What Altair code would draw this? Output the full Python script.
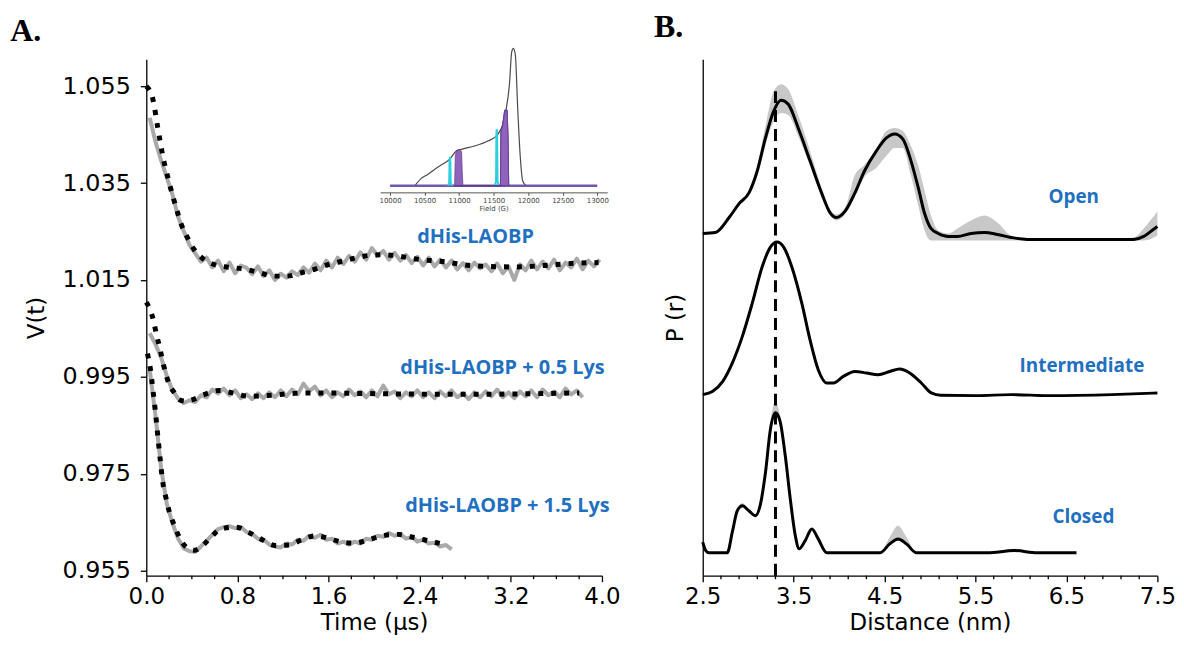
import altair as alt
import pandas as pd

# ---------------- Panel A: DEER time traces ----------------
TIME = [0.03, 0.08, 0.13, 0.18, 0.23, 0.28, 0.33, 0.38, 0.43, 0.48,
        0.53, 0.58, 0.63, 0.68, 0.73, 0.78, 0.83, 0.88, 0.93, 0.98,
        1.03, 1.08, 1.13, 1.18, 1.23, 1.28, 1.33, 1.38, 1.43, 1.48,
        1.53, 1.58, 1.63, 1.68, 1.73, 1.78, 1.83, 1.88, 1.93, 1.98,
        2.03, 2.08, 2.13, 2.18, 2.23, 2.28, 2.33, 2.38, 2.43, 2.48,
        2.53, 2.58, 2.63, 2.68, 2.73, 2.78, 2.83, 2.88, 2.93, 2.98,
        3.03, 3.08, 3.13, 3.18, 3.23, 3.28, 3.33, 3.38, 3.43, 3.48,
        3.53, 3.58, 3.63, 3.68, 3.73, 3.78, 3.83, 3.88, 3.93, 3.98]

V_TOP = [1.0485, 1.0436, 1.0397, 1.0362, 1.0326, 1.0280, 1.0250, 1.0222, 1.0205, 1.0188,
         1.0196, 1.0176, 1.0190, 1.0168, 1.0186, 1.0164, 1.0180, 1.0175, 1.0162, 1.0178,
         1.0158, 1.0170, 1.0150, 1.0163, 1.0155, 1.0168, 1.0160, 1.0176, 1.0165, 1.0184,
         1.0170, 1.0190, 1.0176, 1.0196, 1.0183, 1.0200, 1.0188, 1.0207, 1.0192, 1.0216,
         1.0200, 1.0210, 1.0192, 1.0206, 1.0190, 1.0202, 1.0185, 1.0198, 1.0180, 1.0196,
         1.0178, 1.0192, 1.0176, 1.0190, 1.0172, 1.0185, 1.0170, 1.0186, 1.0174, 1.0182,
         1.0168, 1.0184, 1.0164, 1.0178, 1.0150, 1.0182, 1.0170, 1.0190, 1.0172, 1.0188,
         1.0174, 1.0192, 1.0170, 1.0186, 1.0176, 1.0194, 1.0172, 1.0190, 1.0178, 1.0192]

V_MID = [1.0040, 1.0018, 0.9990, 0.9952, 0.9922, 0.9905, 0.9896, 0.9902, 0.9898, 0.9912,
         0.9908, 0.9924, 0.9916, 0.9926, 0.9912, 0.9922, 0.9906, 0.9914, 0.9904, 0.9916,
         0.9906, 0.9918, 0.9908, 0.9922, 0.9910, 0.9924, 0.9914, 0.9936, 0.9920, 0.9930,
         0.9912, 0.9922, 0.9908, 0.9918, 0.9910, 0.9924, 0.9912, 0.9920, 0.9908, 0.9922,
         0.9910, 0.9932, 0.9914, 0.9920, 0.9906, 0.9918, 0.9910, 0.9922, 0.9908, 0.9918,
         0.9906, 0.9920, 0.9910, 0.9922, 0.9908, 0.9916, 0.9904, 0.9918, 0.9908, 0.9920,
         0.9910, 0.9924, 0.9908, 0.9918, 0.9906, 0.9920, 0.9910, 0.9922, 0.9908, 0.9924,
         0.9912, 0.9920, 0.9908, 0.9926, 0.9914, 0.9922, 0.9908]

V_BOT = [0.9965, 0.9872, 0.9762, 0.9688, 0.9648, 0.9616, 0.9596, 0.9590, 0.9589, 0.9600,
         0.9612, 0.9624, 0.9636, 0.9640, 0.9642, 0.9638, 0.9640, 0.9630, 0.9626, 0.9616,
         0.9614, 0.9604, 0.9600, 0.9598, 0.9606, 0.9604, 0.9614, 0.9612, 0.9622, 0.9618,
         0.9624, 0.9614, 0.9616, 0.9606, 0.9610, 0.9604, 0.9610, 0.9606, 0.9616, 0.9614,
         0.9622, 0.9620, 0.9628, 0.9622, 0.9626, 0.9616, 0.9620, 0.9610, 0.9614, 0.9606,
         0.9608, 0.9600, 0.9603, 0.9594]

FIT_TOP_T = [0.0, 0.058, 0.101, 0.145, 0.203, 0.27, 0.305, 0.358, 0.42, 0.509,
             0.625, 0.742, 0.873, 0.997, 1.12, 1.236, 1.361, 1.477, 1.6, 1.724,
             1.846, 1.972, 2.094, 2.225, 2.341, 2.457, 2.6, 2.85, 3.23, 3.5, 3.72, 3.97]
FIT_TOP_V = [1.055, 1.0523, 1.0464, 1.0406, 1.0349, 1.0293, 1.0266, 1.0239, 1.0213, 1.0192,
             1.0180, 1.0176, 1.0172, 1.0165, 1.0158, 1.0158, 1.0165, 1.0172, 1.0182, 1.0189,
             1.0196, 1.0201, 1.0202, 1.0199, 1.0194, 1.0191, 1.0188, 1.0180, 1.0177, 1.0180,
             1.0184, 1.0186]

FIT_MID_T = [0.0, 0.058, 0.087, 0.122, 0.154, 0.197, 0.247, 0.29, 0.349, 0.407,
             0.524, 0.64, 0.756, 0.9, 1.02, 1.4, 2.15, 2.84, 3.3, 3.8]
FIT_MID_V = [1.0104, 1.0071, 1.0040, 1.0006, 0.9972, 0.9937, 0.9917, 0.9903, 0.9900, 0.9903,
             0.9915, 0.9922, 0.9917, 0.9910, 0.9911, 0.9917, 0.9915, 0.9914, 0.9915, 0.9917]

FIT_BOT_T = [0.01, 0.035, 0.058, 0.081, 0.101, 0.122, 0.145, 0.175, 0.203, 0.247,
             0.29, 0.349, 0.42, 0.48, 0.567, 0.654, 0.785, 0.9, 1.017, 1.134,
             1.25, 1.367, 1.483, 1.6, 1.716, 1.832, 1.948, 2.094, 2.21, 2.341, 2.472, 2.6]
FIT_BOT_V = [0.9998, 0.9968, 0.9924, 0.9876, 0.9828, 0.9780, 0.9732, 0.9698, 0.9671, 0.9643,
             0.9619, 0.9599, 0.9592, 0.9599, 0.9619, 0.9636, 0.9640, 0.9629, 0.9614, 0.9602,
             0.9603, 0.9614, 0.9622, 0.9617, 0.9609, 0.9607, 0.9614, 0.9623, 0.9625, 0.9619,
             0.9612, 0.9605]

TRACE_LABELS = ["dHis-LAOBP", "dHis-LAOBP + 0.5 Lys", "dHis-LAOBP + 1.5 Lys"]
TRACE_LABEL_T = [2.89, 3.127, 3.17]
TRACE_LABEL_V = [1.0238, 0.99689, 0.96841]

V_TICKS = [0.955, 0.975, 0.995, 1.015, 1.035, 1.055]
T_MAJOR = [0.0, 0.8, 1.6, 2.4, 3.2, 4.0]
T_MINOR = [0.2, 0.4, 0.6, 1.0, 1.2, 1.4, 1.8, 2.0, 2.2, 2.6, 2.8, 3.0, 3.4, 3.6, 3.8]

# ---------------- Inset: field-swept spectrum ----------------
SPEC_F = [10360, 10456, 10552, 10648, 10744, 10864, 10960, 11032, 11224, 11416,
          11560, 11632, 11680, 11728, 11762, 11786, 11814, 11848, 11886, 11920, 11968]
SPEC_I = [0, 0.055, 0.084, 0.12, 0.152, 0.193, 0.253, 0.265, 0.289, 0.325,
          0.373, 0.446, 0.554, 0.735, 0.976, 1.0, 0.952, 0.566, 0.205, 0.036, 0]
PUMP1_F = [10935, 10945, 10965, 11010, 11035, 11045, 11055]
PUMP1_I = [0, 0.22, 0.255, 0.262, 0.25, 0.1, 0]
PUMP2_F = [11598, 11606, 11630, 11660, 11695, 11708, 11718]
PUMP2_I = [0, 0.40, 0.44, 0.55, 0.55, 0.35, 0]
OBS1_F = [10836, 10856, 10862, 10867, 10872, 10878, 10898]
OBS1_I = [0, 0.02, 0.19, 0.21, 0.19, 0.02, 0]
OBS2_F = [11515, 11535, 11540, 11545, 11550, 11556, 11575]
OBS2_I = [0, 0.03, 0.39, 0.41, 0.38, 0.03, 0]
BASE_F = [10000, 13000]
BASE_I = [0, 0]
FIELD_TICKS = [10000, 10500, 11000, 11500, 12000, 12500, 13000]

# ---------------- Panel B: distance distributions ----------------
OPEN_R = [2.50, 2.64, 2.79, 2.90, 3.01, 3.10, 3.19, 3.28, 3.36, 3.44,
          3.55, 3.68, 3.81, 3.90, 3.97, 4.07, 4.17, 4.28, 4.41, 4.52,
          4.61, 4.70, 4.79, 4.87, 4.94, 5.01, 5.09, 5.20, 5.30, 5.45,
          5.60, 5.74, 5.89, 6.07, 6.50, 7.00, 7.24, 7.35, 7.44, 7.50]
OPEN_P = [3.47, 3.48, 3.63, 3.77, 3.88, 4.10, 4.43, 4.70, 4.81, 4.77,
          4.53, 4.20, 3.87, 3.68, 3.63, 3.70, 3.87, 4.10, 4.30, 4.43,
          4.47, 4.42, 4.20, 3.93, 3.67, 3.52, 3.47, 3.44, 3.44, 3.47,
          3.48, 3.46, 3.43, 3.41, 3.41, 3.41, 3.41, 3.44, 3.50, 3.54]
OPEN_LO = [3.46, 3.47, 3.62, 3.76, 3.87, 4.05, 4.36, 4.60, 4.68, 4.66,
           4.45, 4.15, 3.83, 3.65, 3.60, 3.67, 3.85, 4.04, 4.13, 4.25,
           4.33, 4.33, 4.05, 3.75, 3.50, 3.40, 3.40, 3.40, 3.40, 3.40,
           3.40, 3.40, 3.40, 3.40, 3.40, 3.40, 3.40, 3.40, 3.42, 3.45]
OPEN_HI = [3.48, 3.49, 3.64, 3.78, 3.89, 4.15, 4.55, 4.90, 4.97, 4.92,
           4.66, 4.30, 3.92, 3.71, 3.66, 3.74, 4.05, 4.16, 4.32, 4.50,
           4.53, 4.50, 4.35, 4.15, 3.90, 3.65, 3.50, 3.47, 3.52, 3.60,
           3.65, 3.58, 3.45, 3.42, 3.42, 3.42, 3.43, 3.52, 3.62, 3.69]

INT_R = [2.50, 2.61, 2.72, 2.825, 2.935, 3.044, 3.153, 3.244, 3.317, 3.39,
         3.48, 3.59, 3.68, 3.77, 3.864, 3.937, 4.046, 4.174, 4.302, 4.429,
         4.557, 4.666, 4.776, 4.904, 5.013, 5.12, 5.5, 5.9, 6.3, 7.0, 7.5]
INT_P = [1.85, 1.883, 1.983, 2.167, 2.433, 2.767, 3.133, 3.333, 3.383, 3.333,
         3.133, 2.767, 2.40, 2.10, 1.967, 1.967, 2.033, 2.083, 2.067, 2.05,
         2.083, 2.107, 2.067, 1.967, 1.867, 1.843, 1.84, 1.85, 1.84, 1.85, 1.867]

CLO_R = [2.50, 2.533, 2.57, 2.77, 2.825, 2.88, 2.935, 3.007, 3.08, 3.135,
         3.19, 3.244, 3.30, 3.35, 3.408, 3.463, 3.518, 3.56, 3.627, 3.70,
         3.77, 3.864, 4.45, 4.557, 4.648, 4.74, 4.85, 5.633, 5.925, 6.18, 6.61]
CLO_P = [0.367, 0.283, 0.26, 0.26, 0.467, 0.683, 0.733, 0.683, 0.633, 0.75,
         1.067, 1.50, 1.667, 1.583, 1.233, 0.80, 0.433, 0.30, 0.383, 0.50,
         0.40, 0.26, 0.26, 0.35, 0.40, 0.35, 0.26, 0.26, 0.283, 0.26, 0.26]
CLO_HI = [0.37, 0.29, 0.265, 0.265, 0.47, 0.69, 0.76, 0.69, 0.64, 0.76,
          1.09, 1.58, 1.78, 1.64, 1.26, 0.82, 0.44, 0.31, 0.39, 0.51,
          0.41, 0.265, 0.265, 0.42, 0.533, 0.42, 0.265, 0.265, 0.30, 0.265, 0.265]
CLO_LO = [0.36, 0.277, 0.255, 0.255, 0.46, 0.675, 0.72, 0.675, 0.625, 0.74,
          1.05, 1.47, 1.63, 1.56, 1.22, 0.79, 0.425, 0.295, 0.375, 0.49,
          0.39, 0.255, 0.255, 0.34, 0.38, 0.34, 0.255, 0.255, 0.275, 0.255, 0.255]

STATE_LABELS = ["Open", "Intermediate", "Closed"]
STATE_LABEL_R = [6.58, 6.67, 6.686]
STATE_LABEL_P = [3.833, 2.133, 0.617]
REF_R = 3.30
REF_TOP = 4.90
R_MAJOR = [2.5, 3.5, 4.5, 5.5, 6.5, 7.5]
R_MINOR = [2.7, 2.9, 3.1, 3.3, 3.7, 3.9, 4.1, 4.3, 4.7, 4.9, 5.1, 5.3,
           5.7, 5.9, 6.1, 6.3, 6.7, 6.9, 7.1, 7.3]

# ---------------- tables ----------------
gray_df = pd.concat([
    pd.DataFrame({"t": TIME[:len(V_TOP)], "V": V_TOP, "series": "top"}),
    pd.DataFrame({"t": TIME[:len(V_MID)], "V": V_MID, "series": "mid"}),
    pd.DataFrame({"t": TIME[:len(V_BOT)], "V": V_BOT, "series": "bot"}),
])
fit_df = pd.concat([
    pd.DataFrame({"t": FIT_TOP_T, "V": FIT_TOP_V, "series": "top"}),
    pd.DataFrame({"t": FIT_MID_T, "V": FIT_MID_V, "series": "mid"}),
    pd.DataFrame({"t": FIT_BOT_T, "V": FIT_BOT_V, "series": "bot"}),
])
lab_df = pd.DataFrame({"t": TRACE_LABEL_T, "V": TRACE_LABEL_V, "label": TRACE_LABELS})
tminor_df = pd.DataFrame({"t": T_MINOR})

spec_df = pd.DataFrame({"F": SPEC_F, "I": SPEC_I})
pump_df = pd.concat([
    pd.DataFrame({"F": PUMP1_F, "I": PUMP1_I, "p": "a"}),
    pd.DataFrame({"F": PUMP2_F, "I": PUMP2_I, "p": "b"}),
])
obs_df = pd.concat([
    pd.DataFrame({"F": OBS1_F, "I": OBS1_I, "p": "a"}),
    pd.DataFrame({"F": OBS2_F, "I": OBS2_I, "p": "b"}),
])
base_df = pd.DataFrame({"F": BASE_F, "I": BASE_I})

band_df = pd.concat([
    pd.DataFrame({"r": OPEN_R, "lo": OPEN_LO, "hi": OPEN_HI, "curve": "Open"}),
    pd.DataFrame({"r": CLO_R, "lo": CLO_LO, "hi": CLO_HI, "curve": "Closed"}),
])
pr_df = pd.concat([
    pd.DataFrame({"r": OPEN_R, "P": OPEN_P, "curve": "Open"}),
    pd.DataFrame({"r": INT_R, "P": INT_P, "curve": "Intermediate"}),
    pd.DataFrame({"r": CLO_R, "P": CLO_P, "curve": "Closed"}),
])
state_df = pd.DataFrame({"r": STATE_LABEL_R, "P": STATE_LABEL_P, "label": STATE_LABELS})
ref_df = pd.DataFrame({"r": [REF_R], "P": [REF_TOP], "P0": [0.03]})
rminor_df = pd.DataFrame({"r": R_MINOR})

# ---------------- styling ----------------
AX_FONT = "DejaVu Sans"
BLUE = "#1F70C1"
W_L, W_R, H = 458, 457, 519

x_left_axis = alt.Axis(values=T_MAJOR, format=".1f", tickSize=6, labelPadding=4, titlePadding=3,
                       labelFontSize=23, labelFlush=False, labelOverlap=False)
y_left_axis = alt.Axis(values=V_TICKS, format=".3f", tickSize=6, labelPadding=10, titlePadding=14,
                       labelOverlap=False)

x_left = alt.X("t:Q", scale=alt.Scale(domain=[0, 4], nice=False), axis=x_left_axis, title="Time (µs)")
y_left = alt.Y("V:Q", scale=alt.Scale(domain=[0.95397, 1.06054], nice=False, zero=False),
               axis=y_left_axis, title="V(t)")

gray = alt.Chart(gray_df).mark_line(color="#a9a9a9", strokeWidth=4, strokeJoin="round").encode(
    x=x_left, y=y_left, detail="series:N")
fit = alt.Chart(fit_df).mark_line(color="black", strokeWidth=5, strokeDash=[5, 8], strokeCap="butt",
                                  interpolate="monotone").encode(x="t:Q", y="V:Q", detail="series:N")
labels = alt.Chart(lab_df).mark_text(color=BLUE, font="Open Sans", fontWeight="bold", fontSize=20).encode(
    x="t:Q", y="V:Q", text="label:N")
t_minor = alt.Chart(tminor_df).mark_rule(color="black", strokeWidth=1.3).encode(
    x="t:Q", y=alt.value(H), y2=alt.value(H + 3.5))
letter_a = alt.Chart(pd.DataFrame({"s": ["A."]})).mark_text(
    font="Liberation Serif", fontWeight="bold", fontSize=32, align="left", baseline="alphabetic", color="black"
).encode(x=alt.value(-136.7), y=alt.value(-18), text="s:N")

main_layer = alt.layer(gray, fit, labels, t_minor, letter_a)

xi = alt.X("F:Q", scale=alt.Scale(domain=[9856, 13144], range=[235.0, 463.3], nice=False, zero=False),
           axis=alt.Axis(orient="bottom", offset=-385.3, values=FIELD_TICKS, format="d",
                         labelFontSize=7, labelFont=AX_FONT, labelColor="#444", labelPadding=1,
                         tickSize=3, tickColor="#555", domainColor="#555", domainWidth=1, tickWidth=1,
                         titleFontSize=7, titleFont=AX_FONT, titleColor="#444", titlePadding=1,
                         titleFontWeight="normal", labelOverlap=False),
           title="Field (G)")
yi = alt.Y("I:Q", scale=alt.Scale(domain=[0, 1], range=[127, -11], nice=False), axis=None)

spec = alt.Chart(spec_df).mark_line(color="#4a4a4a", strokeWidth=1.2, interpolate="monotone").encode(x=xi, y=yi)
base = alt.Chart(base_df).mark_line(color="#7457a8", strokeWidth=2.5).encode(x="F:Q", y="I:Q")
pumps = alt.Chart(pump_df).mark_area(color="#8a5ab8", opacity=0.95, stroke="#5e3c8f", strokeWidth=0.8).encode(
    x="F:Q", y="I:Q", detail="p:N")
obs = alt.Chart(obs_df).mark_line(color="#2ccfe0", strokeWidth=2).encode(x="F:Q", y="I:Q", detail="p:N")
inset_layer = alt.layer(spec, base, obs, pumps)

left = alt.layer(main_layer, inset_layer).resolve_scale(x="independent", y="independent").properties(
    width=W_L, height=H)

x_right_axis = alt.Axis(values=R_MAJOR, format=".1f", tickSize=6, labelPadding=4, titlePadding=3,
                        labelFontSize=23, labelFlush=False, labelOverlap=False)
y_right_axis = alt.Axis(ticks=False, labels=False, titlePadding=15)
x_right = alt.X("r:Q", scale=alt.Scale(domain=[2.5, 7.5], nice=False, zero=False), axis=x_right_axis,
                title="Distance (nm)")
y_right = alt.Y("lo:Q", scale=alt.Scale(domain=[0.03, 5.22], nice=False, zero=False), axis=y_right_axis,
                title="P (r)")

band = alt.Chart(band_df).mark_area(color="#c2c2c2", opacity=0.9, interpolate="monotone").encode(
    x=x_right, y=y_right, y2="hi:Q", detail="curve:N")
lines = alt.Chart(pr_df).mark_line(color="black", strokeWidth=3, interpolate="monotone").encode(
    x="r:Q", y="P:Q", detail="curve:N")
ref = alt.Chart(ref_df).mark_rule(color="black", strokeWidth=3, strokeDash=[12, 7]).encode(
    x="r:Q", y="P:Q", y2="P0:Q")
states = alt.Chart(state_df).mark_text(color=BLUE, font="Open Sans", fontWeight="bold", fontSize=19).encode(
    x="r:Q", y="P:Q", text="label:N")
r_minor = alt.Chart(rminor_df).mark_rule(color="black", strokeWidth=1.3).encode(
    x="r:Q", y=alt.value(H), y2=alt.value(H + 3.5))
letter_b = alt.Chart(pd.DataFrame({"s": ["B."]})).mark_text(
    font="Liberation Serif", fontWeight="bold", fontSize=32, align="left", baseline="alphabetic", color="black"
).encode(x=alt.value(-49), y=alt.value(-22), text="s:N")

right = alt.layer(band, lines, ref, states, r_minor, letter_b).properties(width=W_R, height=H)

chart = alt.hconcat(left, right, spacing=101.3, bounds="flush").properties(
    padding={"left": 2, "top": 2, "right": 0, "bottom": 0}
).configure_view(stroke=None).configure_axis(
    grid=False, domainColor="black", domainWidth=1.3, tickColor="black", tickWidth=1.3,
    labelFont=AX_FONT, labelFontSize=24, labelColor="black",
    titleFont=AX_FONT, titleFontSize=23, titleFontWeight="normal", titleColor="black"
)

chart.save("out.html", embed_options={"renderer": "svg", "actions": False})
